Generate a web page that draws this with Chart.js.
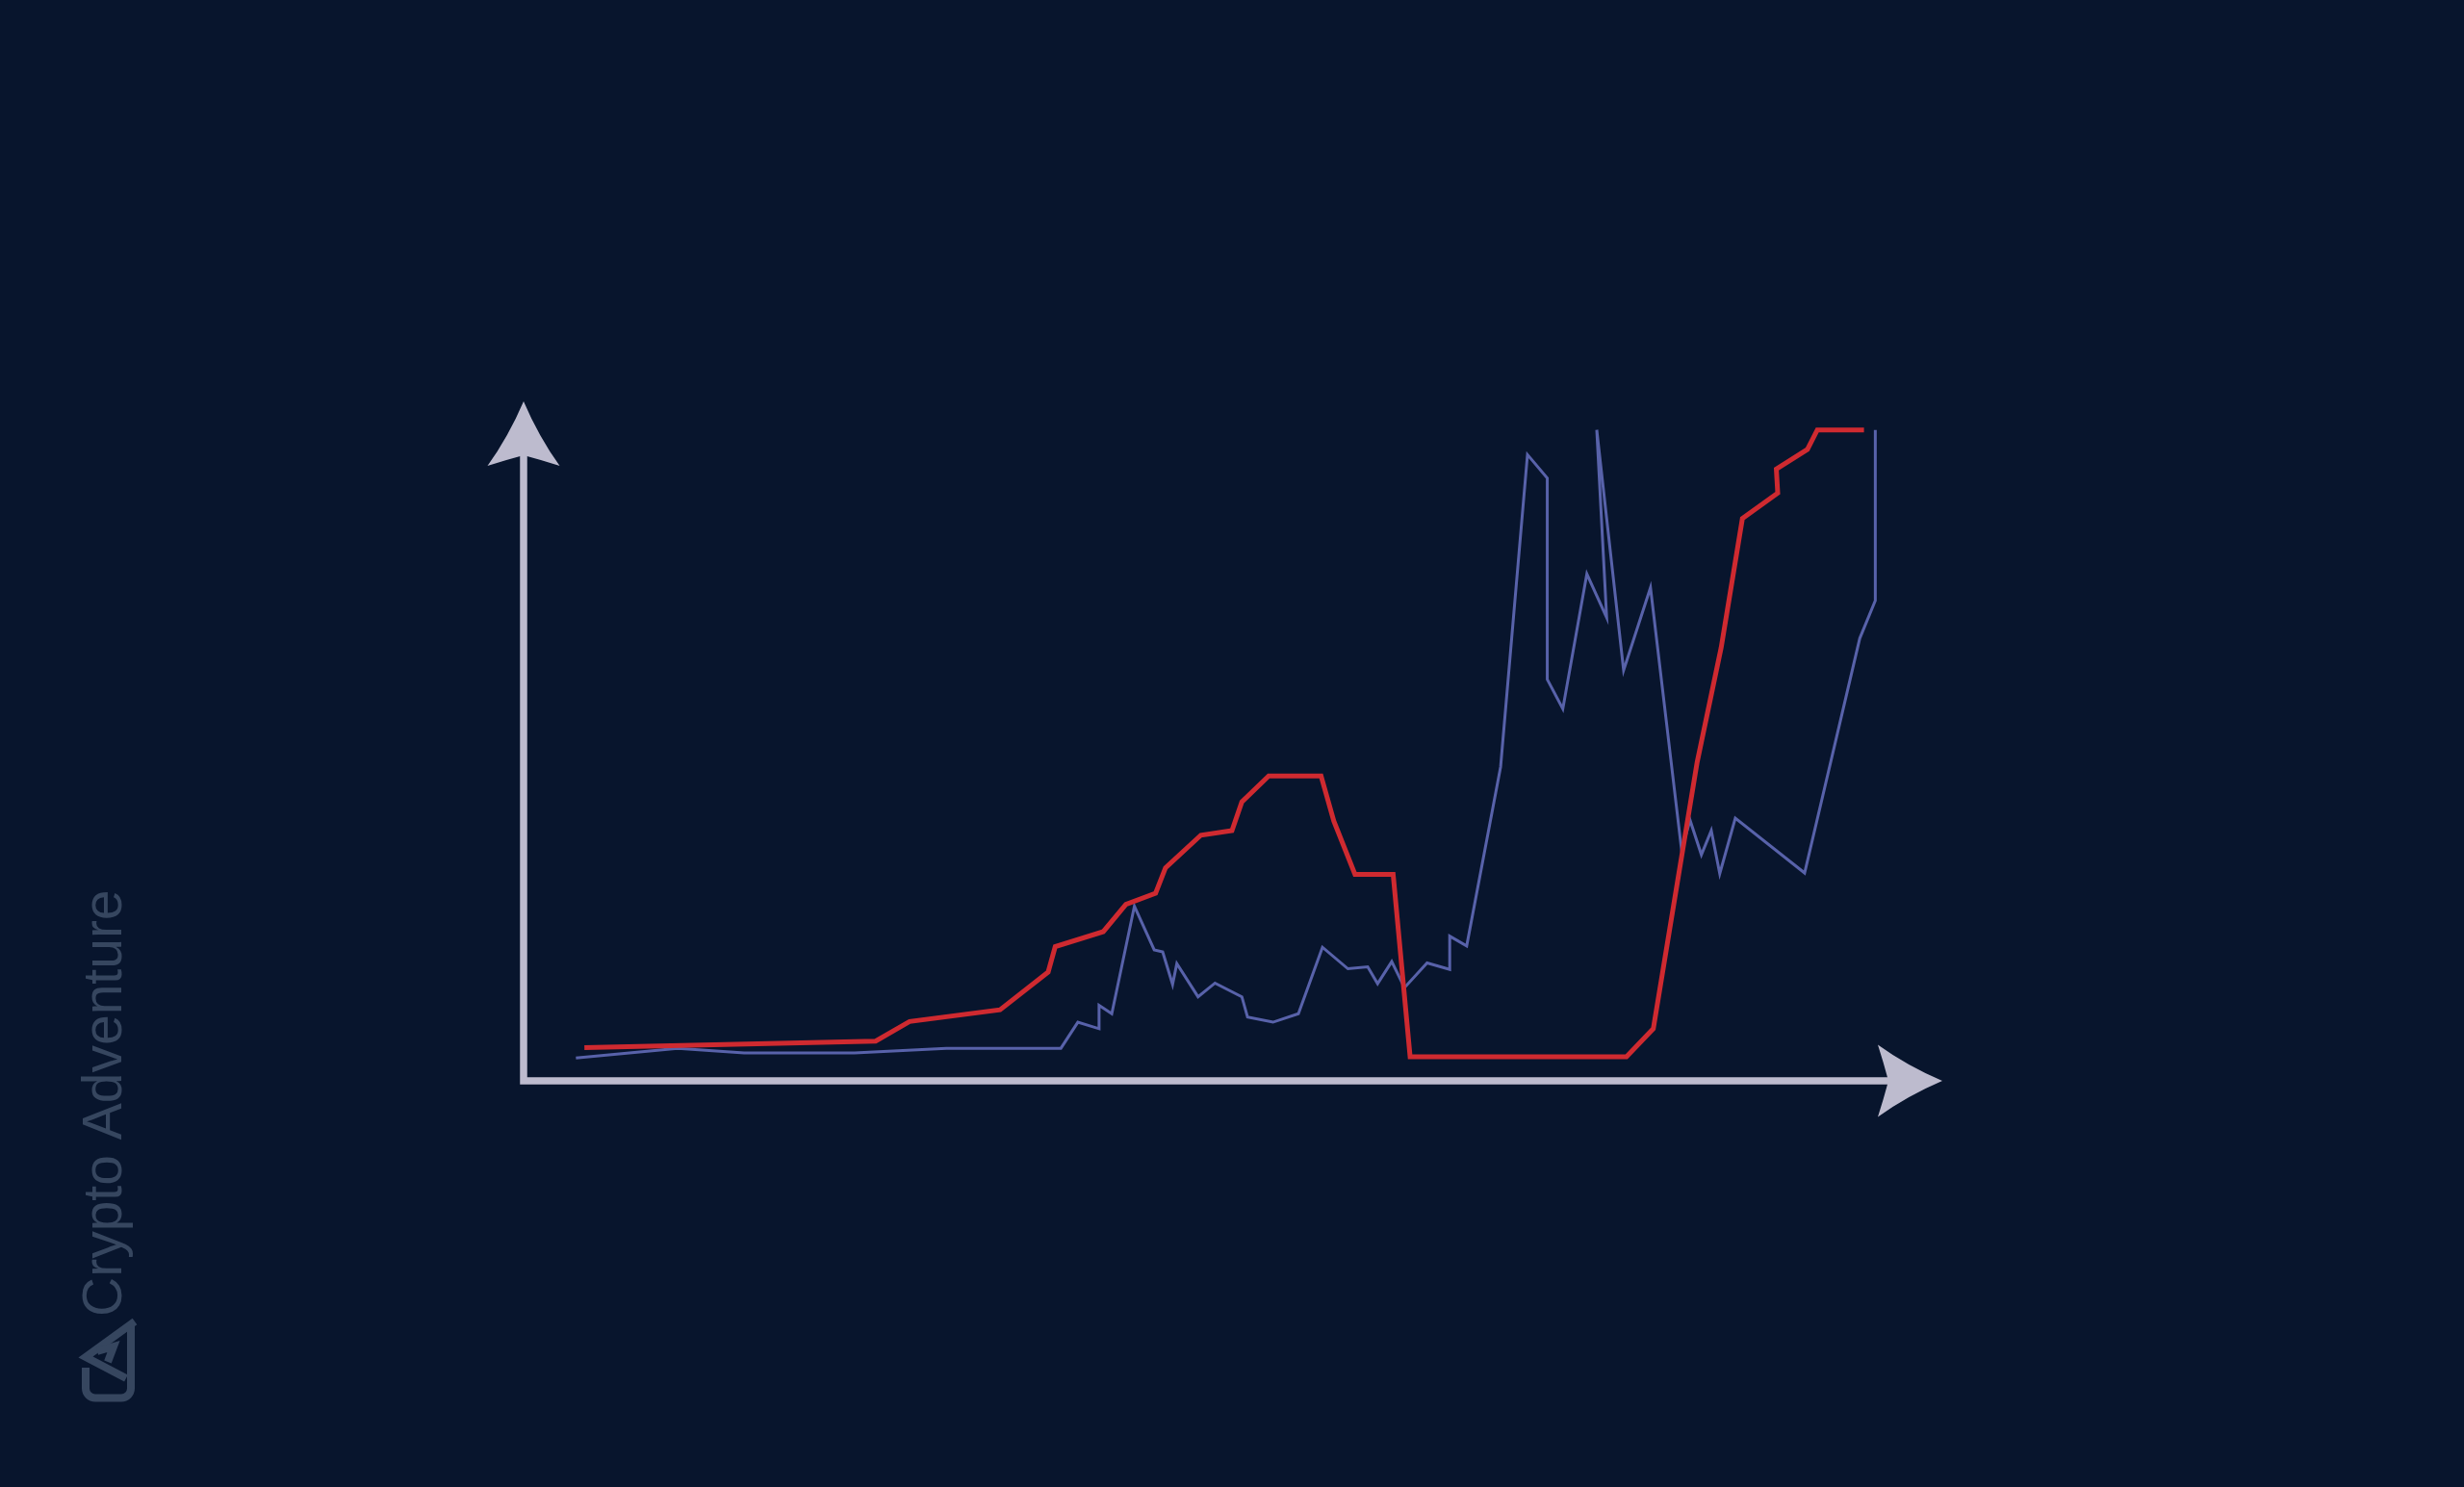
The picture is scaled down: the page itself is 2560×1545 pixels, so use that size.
<!DOCTYPE html>
<html>
<head>
<meta charset="utf-8">
<script src="https://cdn.jsdelivr.net/npm/chart.js@4"></script>
<style>
  html, body { margin: 0; padding: 0; background: #08152d; overflow: hidden; }
  #wrap { width: 100vw; height: 100vh; position: relative; }
</style>
</head>
<body>
<div id="wrap"><canvas id="priceChart"></canvas></div>
<script>
// values (x: 0..100 time, y: 0..100 relative level)
const redX = [4.3, 24.9, 27.3, 33.7, 37.1, 37.6, 41.0, 42.6, 44.7, 45.4, 47.9, 50.1, 50.8, 52.7, 56.4, 57.3, 58.8, 61.5, 62.7, 78.0, 79.9, 83.0, 84.7, 86.2, 88.7, 88.6, 90.8, 91.5, 94.8];
const redY = [5.1, 6.1, 9.1, 10.9, 16.7, 20.6, 22.9, 27.1, 28.8, 32.7, 37.7, 38.4, 42.8, 46.8, 46.8, 39.9, 31.7, 31.7, 3.7, 3.7, 8.0, 48.9, 66.5, 86.3, 90.2, 93.9, 96.9, 99.9, 99.9];

const blueX = [3.7, 10.9, 15.6, 23.4, 29.9, 38.0, 39.2, 40.7, 40.7, 41.6, 43.2, 44.6, 45.2, 45.9, 46.2, 47.7, 48.9, 50.8, 51.2, 53.0, 54.8, 56.5, 58.3, 59.7, 60.4, 61.4, 62.3, 63.9, 65.5, 65.5, 66.7, 69.1, 71.0, 72.4, 72.4, 73.5, 75.2, 76.6, 75.9, 77.8, 79.7, 81.9, 82.5, 83.3, 84.0, 84.6, 85.7, 90.6, 94.5, 95.6, 95.6];
const blueY = [3.5, 5.0, 4.3, 4.3, 5.0, 5.0, 9.0, 8.0, 11.6, 10.3, 26.8, 20.1, 19.8, 14.8, 18.0, 12.9, 15.0, 12.9, 9.8, 9.0, 10.3, 20.5, 17.2, 17.5, 14.9, 18.3, 14.3, 18.1, 17.1, 22.2, 20.7, 48.2, 96.1, 92.5, 61.6, 57.1, 77.8, 71.1, 99.9, 63.0, 75.7, 35.4, 40.0, 34.7, 38.4, 31.8, 40.3, 31.9, 67.9, 73.7, 99.9];

const watermark = 'Crypto Adventure';

function toPoints(xs, ys) {
  return xs.map((x, i) => ({ x: x, y: ys[i] }));
}

// draws the two arrowed axes behind the lines, plus the watermark
const arrowAxes = {
  id: 'arrowAxes',
  beforeDatasetsDraw(chart) {
    const ctx = chart.ctx;
    const a = chart.chartArea;
    const col = '#bdbbce';
    const left = a.left, bottom = a.bottom;
    const yTip = a.top - 29, xTip = a.right + 5;
    const half = 37.5, len = 67, notch = 56;
    ctx.save();
    ctx.strokeStyle = col;
    ctx.fillStyle = col;
    ctx.lineWidth = 7.5;
    ctx.lineJoin = 'miter';
    ctx.beginPath();
    ctx.moveTo(left, yTip + notch - 2);
    ctx.lineTo(left, bottom);
    ctx.lineTo(xTip - notch + 2, bottom);
    ctx.stroke();

    // y arrow head: nearly straight flanks, slightly hollow back
    ctx.beginPath();
    ctx.moveTo(left, yTip);
    ctx.quadraticCurveTo(left - half * 0.42, yTip + len * 0.55, left - half, yTip + len);
    ctx.quadraticCurveTo(left - half * 0.5, yTip + notch + 5, left, yTip + notch);
    ctx.quadraticCurveTo(left + half * 0.5, yTip + notch + 5, left + half, yTip + len);
    ctx.quadraticCurveTo(left + half * 0.42, yTip + len * 0.55, left, yTip);
    ctx.fill();

    // x arrow head
    ctx.beginPath();
    ctx.moveTo(xTip, bottom);
    ctx.quadraticCurveTo(xTip - len * 0.55, bottom - half * 0.42, xTip - len, bottom - half);
    ctx.quadraticCurveTo(xTip - notch - 5, bottom - half * 0.5, xTip - notch, bottom);
    ctx.quadraticCurveTo(xTip - notch - 5, bottom + half * 0.5, xTip - len, bottom + half);
    ctx.quadraticCurveTo(xTip - len * 0.55, bottom + half * 0.42, xTip, bottom);
    ctx.fill();
    ctx.restore();
  },
  afterDraw(chart) {
    const ctx = chart.ctx;
    ctx.save();
    ctx.fillStyle = '#36465f';
    // rotated watermark text
    ctx.translate(126, 1368);
    ctx.rotate(-Math.PI / 2);
    ctx.font = '57px "Liberation Sans", Arial, sans-serif';
    ctx.textBaseline = 'alphabetic';
    ctx.fillText(watermark, 0, 0);
    ctx.restore();

    // logo mark
    ctx.save();
    ctx.strokeStyle = '#36465f';
    ctx.lineWidth = 8;
    ctx.lineJoin = 'miter';
    ctx.lineCap = 'butt';
    ctx.beginPath();
    ctx.moveTo(89, 1421);
    ctx.lineTo(89, 1442);
    ctx.arcTo(89, 1452.5, 100, 1452.5, 10);
    ctx.lineTo(126, 1452.5);
    ctx.arcTo(136, 1452.5, 136, 1442, 10);
    ctx.lineTo(136, 1376);
    ctx.stroke();
    ctx.beginPath();
    ctx.moveTo(140, 1373);
    ctx.lineTo(89, 1410);
    ctx.lineTo(131, 1432);
    ctx.stroke();
    ctx.beginPath();
    ctx.moveTo(101, 1404);
    ctx.lineTo(118, 1399);
    ctx.lineTo(112, 1415);
    ctx.stroke();
    ctx.restore();
  }
};

window.onload = function() {
  const el = document.getElementById('priceChart');
  new Chart(el, {
    type: 'line',
    data: {
      datasets: [{
        label: 'red',
        data: toPoints(redX, redY),
        borderColor: '#cf2a30',
        borderWidth: 5,
        pointRadius: 0,
        tension: 0,
        clip: false
      }, {
        label: 'blue',
        data: toPoints(blueX, blueY),
        borderColor: '#5862aa',
        borderWidth: 3,
        pointRadius: 0,
        tension: 0,
        clip: false
      }]
    },
    options: {
      responsive: true,
      maintainAspectRatio: false,
      animation: false,
      layout: {
        padding: { left: 544, right: 547, top: 446, bottom: 422 }
      },
      scales: {
        x: { type: 'linear', min: 0, max: 100, display: false },
        y: { min: 0, max: 100, display: false }
      },
      plugins: {
        legend: { display: false },
        tooltip: { enabled: false }
      }
    },
    plugins: [arrowAxes]
  });
};
</script>
</body>
</html>
